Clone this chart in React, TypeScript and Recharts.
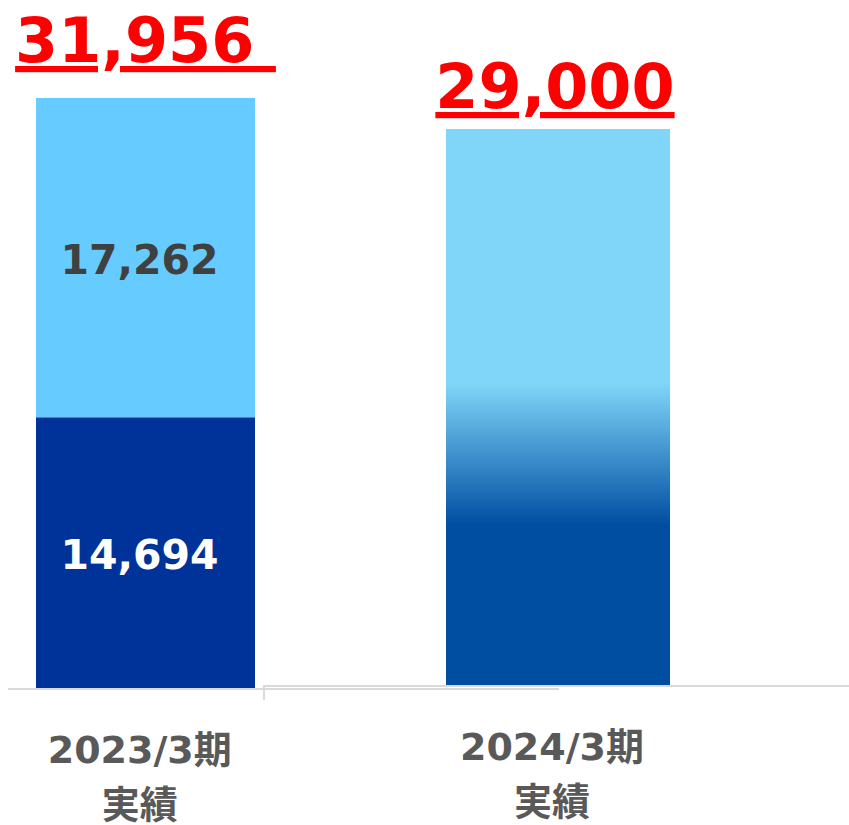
import React from 'react';
import { BarChart, Bar, XAxis, YAxis, LabelList } from 'recharts';

// ---- data ----
const categories = ['2023/3期', '2024/3期'];
const subLabels = ['実績', '実績'];
const lowerValues = [14694];        // 2023/3期 lower segment
const upperValues = [17262];        // 2023/3期 upper segment
const totalValues = [31956, 29000]; // totals shown above bars

const FONT = "'DejaVu Sans', 'Noto Sans CJK JP', sans-serif";

const dataA = [
  { name: categories[0], sub: subLabels[0], lower: lowerValues[0], upper: upperValues[0], total: totalValues[0] },
  { name: '', sub: '', lower: null, upper: null, total: null },
];
const dataB = [
  { name: categories[1], sub: subLabels[1], value: totalValues[1], total: totalValues[1] },
];

const fmt = (v: number) => v.toLocaleString('en-US');

const makeTick = (showEdge: boolean, edgeOffset: number) => (props: any) => {
  const { x, y, payload, width, visibleTicksCount } = props;
  const row = (showEdge ? dataB : dataA).find((d) => d.name === payload.value);
  const band = width && visibleTicksCount ? width / visibleTicksCount : 0;
  const edgeX = x - band / 2 + edgeOffset;
  return (
    <g>
      {showEdge && band > 0 && (
        <line x1={edgeX} y1={y} x2={edgeX} y2={y + 14} stroke="#d9d9d9" strokeWidth={2} />
      )}
      {payload.value ? (
        <text
          x={x - 6}
          y={y + 74}
          textAnchor="middle"
          fill="#595959"
          fontFamily={FONT}
          fontWeight={700}
          fontSize={38}
        >
          <tspan x={x - 6}>{payload.value}</tspan>
          <tspan x={x - 6} dy={55}>{row ? row.sub : ''}</tspan>
        </text>
      ) : null}
    </g>
  );
};

const makeTotalLabel = (rise: number, dx: number, trailingSpace: boolean) => (props: any) => {
  const { x, y, width, value } = props;
  if (value == null) return null;
  return (
    <text
      x={x + width / 2 + dx}
      y={y - rise}
      textAnchor="middle"
      fill="#ff0000"
      fontFamily={FONT}
      fontWeight={700}
      fontSize={62}
      textDecoration="underline"
      style={{ whiteSpace: 'pre', textDecorationThickness: '3px', textUnderlineOffset: '5px' } as any}
    >
      {fmt(value) + (trailingSpace ? '\u00A0' : '')}
    </text>
  );
};

const makeInnerLabel = (color: string) => (props: any) => {
  const { x, y, width, height, value } = props;
  if (value == null) return null;
  return (
    <text
      x={x + width / 2 - 6}
      y={y + height / 2 + 2}
      textAnchor="middle"
      dominantBaseline="central"
      fill={color}
      fontFamily={FONT}
      fontWeight={700}
      fontSize={41}
    >
      {fmt(value)}
    </text>
  );
};

export default function App() {
  return (
    <div style={{ position: 'absolute', left: 0, top: 0, width: 849, height: 825, background: '#fff', overflow: 'hidden' }}>
      <div style={{ position: 'absolute', left: 8, top: 0 }}>
        <BarChart width={551} height={825} data={dataA} margin={{ top: 98, right: 0, left: 0, bottom: 0 }} barSize={219}>
          <XAxis
            dataKey="name"
            height={136}
            axisLine={{ stroke: '#d9d9d9', strokeWidth: 2 }}
            tickLine={false}
            tickSize={0}
            tickMargin={0}
            interval={0}
            tick={makeTick(false, 0)}
          />
          <YAxis hide domain={[0, 'dataMax']} />
          <Bar dataKey="lower" stackId="s" fill="#003399" isAnimationActive={false}>
            <LabelList dataKey="lower" content={makeInnerLabel('#ffffff')} />
          </Bar>
          <Bar dataKey="upper" stackId="s" fill="#66ccff" isAnimationActive={false}>
            <LabelList dataKey="upper" content={makeInnerLabel('#404040')} />
            <LabelList dataKey="total" content={makeTotalLabel(36, 0, true)} />
          </Bar>
        </BarChart>
      </div>
      <div style={{ position: 'absolute', left: 263, top: 0 }}>
        <BarChart width={590} height={825} data={dataB} margin={{ top: 129, right: 0, left: 0, bottom: 0 }} barSize={224}>
          <defs>
            <linearGradient id="grad2024" x1="0" y1="0" x2="0" y2="1">
              <stop offset="0" stopColor="#80d6f8" />
              <stop offset="0.456" stopColor="#80d6f8" />
              <stop offset="0.711" stopColor="#004ea2" />
              <stop offset="1" stopColor="#004ea2" />
            </linearGradient>
          </defs>
          <XAxis
            dataKey="name"
            height={139}
            axisLine={{ stroke: '#d9d9d9', strokeWidth: 2 }}
            tickLine={false}
            tickSize={0}
            tickMargin={0}
            interval={0}
            tick={makeTick(true, 1)}
          />
          <YAxis hide domain={[0, 'dataMax']} />
          <Bar dataKey="value" fill="url(#grad2024)" isAnimationActive={false}>
            <LabelList dataKey="total" content={makeTotalLabel(21, -3, false)} />
          </Bar>
        </BarChart>
      </div>
    </div>
  );
}
